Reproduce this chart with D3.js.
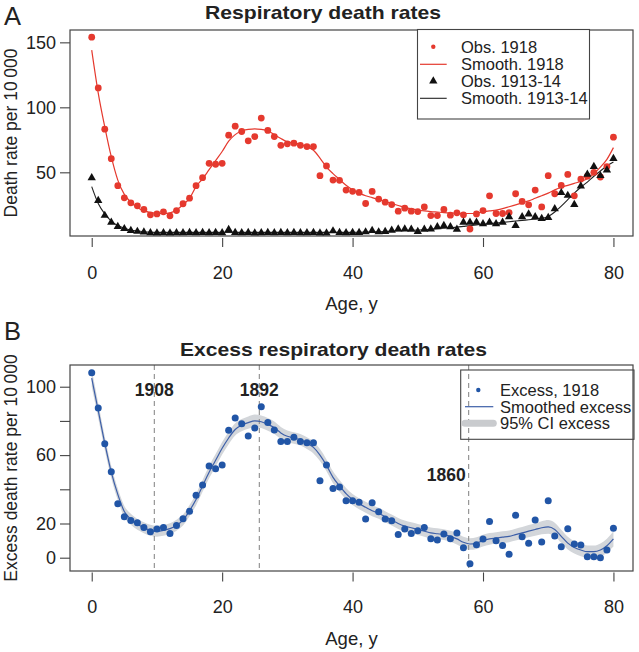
<!DOCTYPE html>
<html><head><meta charset="utf-8">
<script src="https://cdn.jsdelivr.net/npm/d3@7"></script>
<style>
body{margin:0;background:#fff}
svg{display:block;font-family:"Liberation Sans",Arial,Helvetica,sans-serif}
</style>
</head><body><svg id="c" width="639" height="652"></svg>
<script>
// ---------------- DATA ----------------
const ages = [0,1,2,3,4,5,6,7,8,9,10,11,12,13,14,15,16,17,18,19,20,21,22,23,24,25,26,27,28,29,30,31,32,33,34,35,36,37,38,39,40,41,42,43,44,45,46,47,48,49,50,51,52,53,54,55,56,57,58,59,60,61,62,63,64,65,66,67,68,69,70,71,72,73,74,75,76,77,78,79,80];

const obs1918 = [154,114.9,83.2,60.5,39.7,30.4,26.5,24.2,21.4,17.3,
 18.0,19.6,16.5,20.6,25.8,30.1,39.7,45.9,56.9,56.2,
 56.9,78.6,85.5,81.4,74.2,77.5,91.7,82.2,77.5,70.8,
 71.9,72.4,70.8,69.8,69.8,47.4,54.9,44.0,43.8,36.3,
 35.4,34.5,26.0,35.3,29.4,27.0,25.2,20.1,22.4,20.1,
 19.8,23.4,16.7,16.7,21.4,17.0,18.8,17.3,6.4,18.0,
 20.6,31.9,18.3,18.3,19.0,33.5,27.6,25.0,36.3,23.4,
 47.4,33.5,39.9,48.4,31.9,44.8,47,50,46.4,54.4,77.0];

const smooth1918 = [144,111,85,62,44,33,27,23,20.5,19,
 18.5,18.3,18.8,21,25,30,39,45,52,59,
 66,74,79,82,83,83.5,83,82,79,76,
 73.5,72.5,71.5,69.5,67,61,54,49,44.5,40,
 36.5,34,32,30.5,29,27.5,26,24.5,23,22,
 21,20.3,19.8,19.4,19,18.7,18.5,18.3,18.3,18.7,
 19.5,20.3,21,22,23.5,25,26.5,28,30,32,
 34,36.5,38.5,40,41.5,43,45,49,54,60,69];

const obs1914 = [45.8,28.2,16.8,11.5,8.3,6.6,5.2,4.5,4.0,3.4,
 3.3,3.5,3.2,3.5,3.4,3.6,3.4,3.6,3.5,3.6,
 3.4,5.9,3.6,3.5,3.6,3.3,3.4,3.6,3.5,3.6,
 3.5,3.6,3.4,3.5,3.6,3.3,3.2,4.9,3.6,3.5,
 3.6,3.6,4.1,5.2,4.1,4.4,5.4,6.4,6.4,6.2,
 4.4,6.2,6.4,8.0,9.0,8.0,6.2,11.6,11.6,11.6,
 10.3,11.6,10.3,11.6,15.7,9.0,15.7,17.8,15.7,14.4,
 15.2,21.9,34.3,32.2,25.2,39.4,48.4,54.4,47.4,51.8,60.5];

const smooth1914 = [39,26,18,12.5,9,7,5.6,4.8,4.3,4,
 3.8,3.8,3.8,3.8,3.8,3.8,3.8,3.8,3.8,3.8,
 3.8,3.8,3.8,3.8,3.8,3.8,3.8,3.8,3.8,3.8,
 3.8,3.8,3.8,3.8,3.8,3.8,3.8,3.8,3.8,3.8,
 3.8,3.9,4,4.1,4.3,4.5,4.7,5,5.2,5.4,
 5.6,5.9,6.2,6.6,7,7.4,7.8,8.4,9,9.5,
 10,10.5,11,11.5,12,12.5,13,13.5,14,14.5,
 16,19.5,24,29,34,38.5,42.5,47,51,55,58];

const excess1918 = [108.2,87.5,66.7,50.3,31.6,24.0,21.7,20.5,17.6,15.2,
 16.8,17.6,14.1,18.9,22.8,27.1,36.5,42.5,53.6,52.0,
 54.2,74.5,81.7,78.4,71.2,75.8,88.3,79.1,74.7,68.0,
 68.0,70.4,68.0,67.3,67.3,45.0,54.2,40.5,41.3,33.3,
 33.3,32.4,22.6,32.2,26.9,22.6,21.6,13.6,16.8,14.2,
 15.8,17.6,11.1,10.3,13.8,11.1,14.4,5.8,-3.5,7.6,
 10.9,21.2,9.9,7.2,2.0,24.8,12.3,8.4,22.0,9.2,
 33.3,12.7,6.4,17.0,8.0,7.4,0.6,0.6,0.0,4.5,17.2];

const smoothExcess = [105,86,67,50,37,27,22.5,19.5,17.5,16,
 15.5,16,17,19,22,27.5,34,42,50,57,
 64,70,75,77.5,79,80,79.5,78,76,73,
 71,70,69,67,64.5,60,54,47,42,37.5,
 34,31.5,29.5,27.5,26,24,22,20,18.5,17.5,
 16.5,15.5,14.5,14,13.5,12.5,11,9,8,8.5,
 10,11,11.5,12,12.5,13.5,14.5,15.5,16.5,17.5,
 18,16.5,12.5,8.5,6,4.5,3.5,3.5,4.5,7,11];

const ciHalf = [5,4.5,4,3.6,3.4,3.3,3.2,3.2,3.2,3.2,
 3.2,3.2,3.2,3.2,3.2,3.3,3.4,3.5,3.6,3.6,
 3.6,3.6,3.6,3.6,3.6,3.7,3.7,3.7,3.6,3.5,
 3.4,3.4,3.4,3.4,3.5,3.5,3.5,3.5,3.4,3.3,
 3.2,3.2,3.2,3.2,3.2,3.2,3.2,3.2,3.2,3.2,
 3.2,3.2,3.2,3.2,3.2,3.2,3.3,3.3,3.4,3.4,
 3.4,3.4,3.4,3.4,3.4,3.5,3.5,3.6,3.7,3.8,
 4,3.9,3.8,3.7,3.6,3.6,3.6,3.6,3.8,4.1,4.5];

const cohortYears = ["1908","1892","1860"];
const cohortAges = [9.6,25.7,57.8];

const xTicks = [0,20,40,60,80];
const yTicksA = [50,100,150];
const yTicksB = [0,20,40,60,80,100];
const yLabelsB = [0,20,60,100];

const legendA = ["Obs. 1918","Smooth. 1918","Obs. 1913-14","Smooth. 1913-14"];
const legendB = ["Excess, 1918","Smoothed excess","95% CI excess"];

// ---------------- STYLE ----------------
const RED = "#e5392e", BLUE = "#2155a6", BLUEL = "#3d5fa8", BAND = "#d3d6da", INK = "#222", BOX = "#444";
const svg = d3.select("#c");

const x = d3.scaleLinear().domain([-3.33, 83.0]).range([70, 633]);
const yA = d3.scaleLinear().domain([1, 159.5]).range([236, 30]);
const yB = d3.scaleLinear().domain([-7.78, 112.7]).range([571, 365]);

function xAxis(yPos) {
  const g = svg.append("g").attr("transform", `translate(0,${yPos})`)
    .call(d3.axisBottom(x).tickValues(xTicks).tickSize(9).tickFormat(d3.format("d")));
  g.select(".domain").remove();
  g.selectAll(".tick line").attr("stroke", BOX).attr("stroke-width", 1.1);
  g.selectAll(".tick text").attr("y", 28).attr("dy", "0.71em")
    .attr("font-size", 18).attr("fill", INK).attr("font-family", null);
  return g;
}
function yAxis(scale, ticks, labels) {
  const g = svg.append("g").attr("transform", "translate(70,0)")
    .call(d3.axisLeft(scale).tickValues(ticks).tickSize(10).tickPadding(4)
      .tickFormat(d => labels.includes(d) ? d : ""));
  g.select(".domain").remove();
  g.selectAll(".tick line").attr("stroke", BOX).attr("stroke-width", 1.1);
  g.selectAll(".tick text").attr("font-size", 18).attr("fill", INK).attr("font-family", null);
}

// ================= PANEL A =================
svg.append("text").attr("x", 4).attr("y", 25).attr("font-size", 25.5).attr("fill", INK).text("A");
svg.append("text").attr("x", 205).attr("y", 18.5).attr("font-size", 18.5).attr("font-weight", "bold")
  .attr("fill", INK).attr("textLength", 236).attr("lengthAdjust", "spacingAndGlyphs").text("Respiratory death rates");

const lineA = (arr) => d3.line().x((d, i) => x(ages[i])).y(d => yA(d)).curve(d3.curveMonotoneX)(arr);

svg.append("path").attr("d", lineA(smooth1918)).attr("fill", "none").attr("stroke", RED).attr("stroke-width", 1.2);
svg.append("path").attr("d", lineA(smooth1914)).attr("fill", "none").attr("stroke", "#222").attr("stroke-width", 1.1);

svg.append("g").selectAll("circle").data(obs1918).join("circle")
  .attr("cx", (d, i) => x(ages[i])).attr("cy", d => yA(d)).attr("r", 3.4).attr("fill", RED);

const tri = d3.symbol().type(d3.symbolTriangle).size(30);
svg.append("g").selectAll("path").data(obs1914).join("path")
  .attr("d", tri).attr("transform", (d, i) => `translate(${x(ages[i])},${yA(d)})`).attr("fill", "#111");

svg.append("rect").attr("x", 70).attr("y", 30).attr("width", 563).attr("height", 206)
  .attr("fill", "none").attr("stroke", BOX).attr("stroke-width", 1.2);

yAxis(yA, yTicksA, yTicksA);
xAxis(238);

svg.append("text").attr("transform", "translate(17,133) rotate(-90)").attr("text-anchor", "middle")
  .attr("font-size", 17.5).attr("fill", INK).text("Death rate per 10\u2009000");
svg.append("text").attr("x", 351.5).attr("y", 309.5).attr("text-anchor", "middle")
  .attr("font-size", 18.5).attr("fill", INK).text("Age, y");

// legend A
const lgA = svg.append("g");
lgA.append("rect").attr("x", 417.5).attr("y", 29.5).attr("width", 172).attr("height", 89.5)
  .attr("fill", "#fff").attr("stroke", BOX).attr("stroke-width", 1.1);
const rowsA = [46.7, 64.3, 81, 98.3];
legendA.forEach((t, i) => {
  lgA.append("text").attr("x", 461).attr("y", rowsA[i] + 6).attr("font-size", 16.5).attr("fill", INK).text(t);
});
lgA.append("circle").attr("cx", 433.3).attr("cy", rowsA[0]).attr("r", 2.2).attr("fill", RED);
lgA.append("line").attr("x1", 420).attr("x2", 446.7).attr("y1", rowsA[1]).attr("y2", rowsA[1]).attr("stroke", RED).attr("stroke-width", 1.2);
lgA.append("path").attr("d", tri).attr("transform", `translate(433.3,${rowsA[2]})`).attr("fill", "#111");
lgA.append("line").attr("x1", 420).attr("x2", 446.7).attr("y1", rowsA[3]).attr("y2", rowsA[3]).attr("stroke", "#222").attr("stroke-width", 1.1);

// ================= PANEL B =================
svg.append("text").attr("x", 4).attr("y", 340).attr("font-size", 25.5).attr("fill", INK).text("B");
svg.append("text").attr("x", 180).attr("y", 356).attr("font-size", 18.5).attr("font-weight", "bold")
  .attr("fill", INK).attr("textLength", 307).attr("lengthAdjust", "spacingAndGlyphs").text("Excess respiratory death rates");

const band = d3.area().x((d, i) => x(ages[i]))
  .y0((d, i) => yB(d - ciHalf[i])).y1((d, i) => yB(d + ciHalf[i])).curve(d3.curveMonotoneX);
svg.append("path").attr("d", band(smoothExcess)).attr("fill", BAND);

cohortAges.forEach((a, i) => {
  svg.append("line").attr("x1", x(a)).attr("x2", x(a)).attr("y1", 365).attr("y2", 571)
    .attr("stroke", "#8c8c8c").attr("stroke-width", 1.1).attr("stroke-dasharray", "5,4");
});

svg.append("path").attr("d", d3.line().x((d, i) => x(ages[i])).y(d => yB(d)).curve(d3.curveMonotoneX)(smoothExcess))
  .attr("fill", "none").attr("stroke", BLUEL).attr("stroke-width", 1.2);

svg.append("g").selectAll("circle").data(excess1918).join("circle")
  .attr("cx", (d, i) => x(ages[i])).attr("cy", d => yB(d)).attr("r", 3.5).attr("fill", BLUE);

// cohort labels
const labY = [396, 396, 481];
cohortYears.forEach((t, i) => {
  const last = i === 2;
  svg.append("text").attr("x", last ? x(cohortAges[i]) - 3 : x(cohortAges[i]))
    .attr("y", labY[i]).attr("text-anchor", last ? "end" : "middle")
    .attr("font-size", 17.5).attr("font-weight", "bold").attr("fill", INK).text(t);
});

svg.append("rect").attr("x", 70).attr("y", 365).attr("width", 563).attr("height", 206)
  .attr("fill", "none").attr("stroke", BOX).attr("stroke-width", 1.2);

yAxis(yB, yTicksB, yLabelsB);
xAxis(572.5);

svg.append("text").attr("transform", "translate(17,468) rotate(-90)").attr("text-anchor", "middle")
  .attr("font-size", 17.5).attr("fill", INK).text("Excess death rate per 10\u2009000");
svg.append("text").attr("x", 351.5).attr("y", 645).attr("text-anchor", "middle")
  .attr("font-size", 18.5).attr("fill", INK).text("Age, y");

// legend B
const lgB = svg.append("g");
lgB.append("rect").attr("x", 460.7).attr("y", 370).attr("width", 173.3).attr("height", 69.3)
  .attr("fill", "none").attr("stroke", BOX).attr("stroke-width", 1.1);
const rowsB = [390, 406.7, 423.3];
legendB.forEach((t, i) => {
  lgB.append("text").attr("x", 500).attr("y", rowsB[i] + 6).attr("font-size", 16.5).attr("fill", INK).text(t);
});
lgB.append("circle").attr("cx", 478.3).attr("cy", rowsB[0]).attr("r", 2.2).attr("fill", BLUE);
lgB.append("line").attr("x1", 465).attr("x2", 493.3).attr("y1", rowsB[1]).attr("y2", rowsB[1]).attr("stroke", BLUEL).attr("stroke-width", 1.2);
lgB.append("line").attr("x1", 465).attr("x2", 493.3).attr("y1", rowsB[2]).attr("y2", rowsB[2]).attr("stroke", "#c9cbce").attr("stroke-width", 7).attr("stroke-linecap", "round");
</script>
</body></html>
